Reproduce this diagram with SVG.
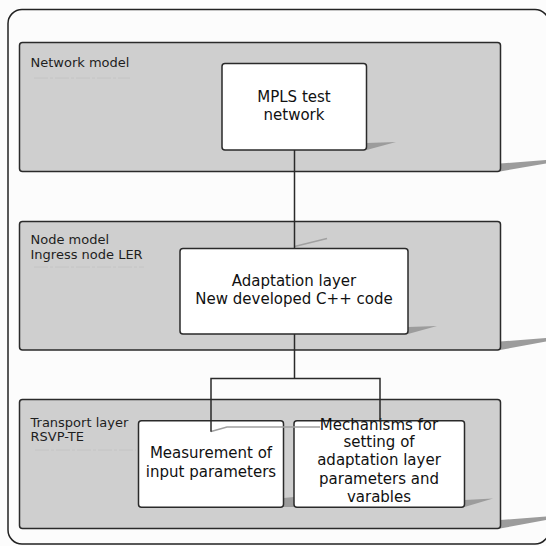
<svg xmlns="http://www.w3.org/2000/svg" width="546" height="546" viewBox="0 0 546 546">
  <style>
    .panel { fill: #cfcfcf; stroke: #2a2a2a; stroke-width: 1.5; }
    .box { fill: #ffffff; stroke: #2a2a2a; stroke-width: 1.5; }
    .shadow { fill: #9c9c9c; }
    .lbl { font-family: "DejaVu Sans", Verdana, sans-serif; font-size: 13px; fill: #1e1e1e; }
    .txt { font-family: "DejaVu Sans", Verdana, sans-serif; font-size: 15px; fill: #111111; text-anchor: middle; }
    .faint { stroke: #c4c4c4; stroke-width: 1; stroke-dasharray: 14 2 3 2; fill: none; }
    .conn { stroke: #2a2a2a; stroke-width: 1.5; fill: none; }
    .cshadow { stroke: #a0a0a0; stroke-width: 1.5; fill: none; }
  </style>
  <rect x="0" y="0" width="546" height="546" fill="#fcfcfc"/>
  <rect id="frame" x="8" y="9.5" width="541" height="534.5" rx="14" ry="14" fill="#fcfcfc" stroke="#222" stroke-width="1.5"/>

  <g id="network-model">
    <polygon class="shadow" points="500,163.5 546,160 546,163.5 500,171.5"/>
    <rect class="panel" x="19.5" y="42.5" width="481" height="129" rx="3"/>
    <text class="lbl" x="30.5" y="66.5">Network model</text>
    <line class="faint" x1="34" y1="78" x2="130" y2="78"/>
  </g>

  <g id="node-model">
    <polygon class="shadow" points="500,341.5 546,338 546,341.5 500,350"/>
    <rect class="panel" x="19.5" y="221.5" width="481" height="128.5" rx="3"/>
    <text class="lbl" x="30.5" y="243.5">Node model</text>
    <text class="lbl" x="30.5" y="258.5">Ingress node LER</text>
    <line class="faint" x1="34" y1="267" x2="144" y2="267"/>
  </g>

  <g id="transport-layer">
    <polygon class="shadow" points="500,520 546,516.5 546,520 500,528.5"/>
    <rect class="panel" x="19.5" y="399.5" width="481" height="129" rx="3"/>
    <text class="lbl" x="30.5" y="426.5">Transport layer</text>
    <text class="lbl" x="30.5" y="440.5">RSVP-TE</text>
    <line class="faint" x1="35" y1="450" x2="136" y2="450"/>
  </g>

  <g id="mpls-test-network">
    <polygon class="shadow" points="366.5,143 396,142 366.5,150"/>
    <rect class="box" x="222" y="63.5" width="144.5" height="86.5" rx="3"/>
    <text class="txt" x="294" y="101.5">MPLS test</text>
    <text class="txt" x="294" y="120">network</text>
  </g>

  <g id="adaptation-layer">
    <polygon class="shadow" points="408,327 437,326 408,334"/>
    <rect class="box" x="180" y="248.5" width="228" height="85.5" rx="3"/>
    <text class="txt" x="294" y="285.5">Adaptation layer</text>
    <text class="txt" x="294" y="303.5">New developed C++ code</text>
  </g>

  <g id="measurement">
    <polygon class="shadow" points="283.5,498 294,497 294,507 283.5,507"/>
    <rect class="box" x="138.5" y="420.7" width="145" height="86.6" rx="3"/>
    <text class="txt" x="211" y="458.3">Measurement of</text>
    <text class="txt" x="211" y="477">input parameters</text>
  </g>

  <g id="mechanisms">
    <polygon class="shadow" points="464.5,500 493,498.5 464.5,507"/>
    <rect class="box" x="294" y="420.7" width="170.5" height="86.6" rx="3"/>
    <text class="txt" x="379" y="430">Mechanisms for</text>
    <text class="txt" x="379" y="447">setting of</text>
    <text class="txt" x="379" y="465">adaptation layer</text>
    <text class="txt" x="379" y="483.5">parameters and</text>
    <text class="txt" x="379" y="502">varables</text>
  </g>

  <g id="connectors">
    <line class="cshadow" x1="294.5" y1="246.5" x2="327" y2="238.5"/>
    <polyline class="cshadow" points="211,431.5 227,427 320,427"/>
    <line class="conn" x1="294.5" y1="150" x2="294.5" y2="248.5"/>
    <polyline class="conn" points="294.5,334 294.5,378.5"/>
    <polyline class="conn" points="211,431.7 211,378.5 380,378.5 380,421.5"/>
  </g>
</svg>
